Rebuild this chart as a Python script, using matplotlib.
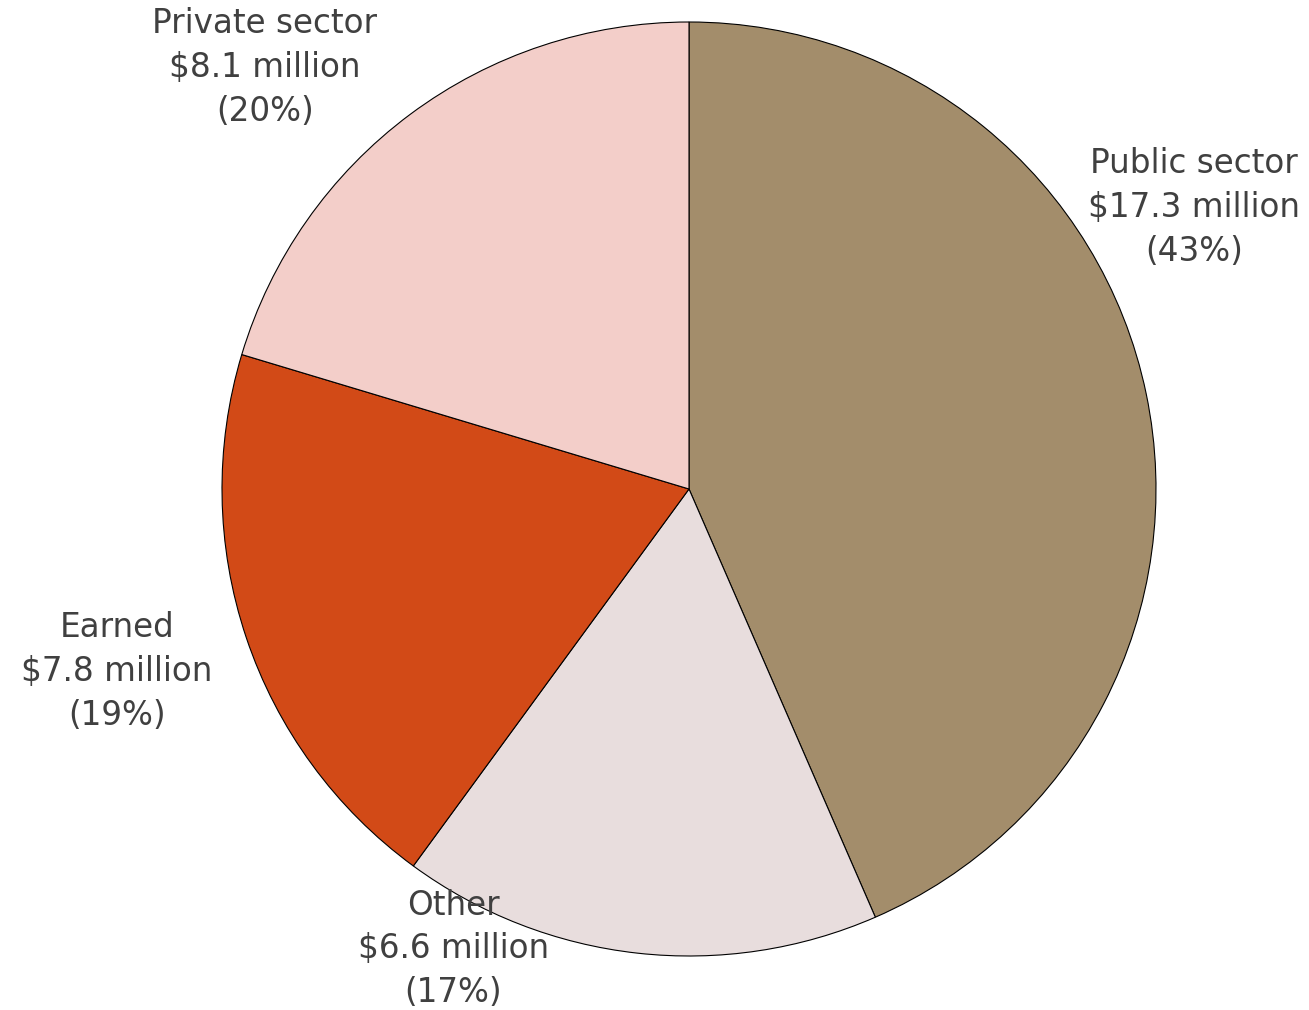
import matplotlib
matplotlib.use("Agg")
import matplotlib.pyplot as plt

# revenue sources, millions of dollars
sources = ["Public sector", "Other", "Earned", "Private sector"]
amounts = [17.3, 6.6, 7.8, 8.1]
percents = [43, 17, 19, 20]
colors = ["#A38D6B", "#E8DDDD", "#D24A17", "#F3CEC9"]

fig = plt.figure(figsize=(13.09, 10.10), dpi=100)
ax = fig.add_axes([0, 0, 1, 1])

ax.pie(amounts, colors=colors, startangle=90, counterclock=False,
       radius=1.0, center=(0, 0),
       wedgeprops=dict(edgecolor="black", linewidth=0.8))

# label spots around the pie
label_xy = [(1.081, 0.602), (-0.505, -0.985), (-1.225, -0.390), (-0.908, 0.902)]
for name, amt, pct, (x, y) in zip(sources, amounts, percents, label_xy):
    ax.text(x, y, f"{name}\n${amt} million\n({pct}%)", ha="center", va="center",
            multialignment="center", fontsize=23.5, color="#404040",
            linespacing=1.42, family="DejaVu Sans")

ax.set_xlim(-689 / 467, (1309 - 689) / 467)
ax.set_ylim(-(1010 - 489) / 467, 489 / 467)
ax.set_aspect("equal")
ax.axis("off")

fig.savefig("out.png", dpi=100)
